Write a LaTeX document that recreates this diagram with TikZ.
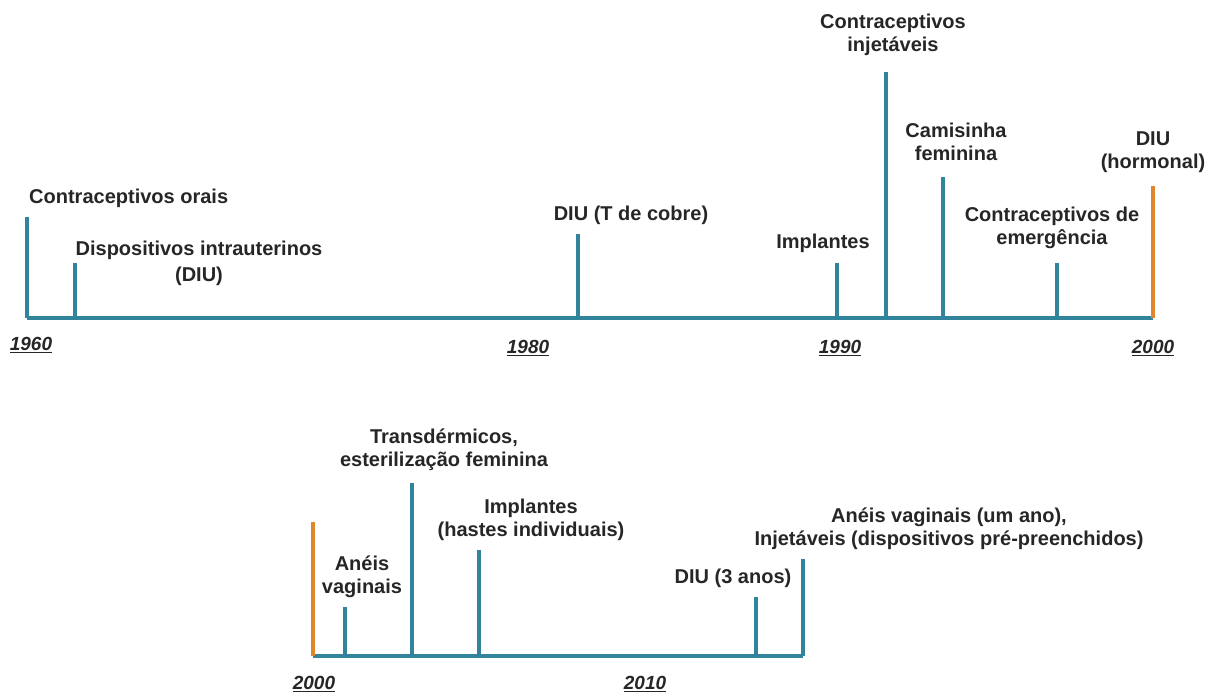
\documentclass[tikz,border=0pt]{standalone}
\usepackage{fontspec}
\setmainfont{Liberation Sans}
\definecolor{stemteal}{HTML}{31849B}
\definecolor{stemorange}{HTML}{E0862F}
\definecolor{ink}{HTML}{262626}
\tikzset{
  stem/.style={draw=stemteal, line width=3.2pt},
  stemhl/.style={draw=stemorange, line width=3.2pt},
  lbl/.style={font=\bfseries\fontsize{20}{23}\selectfont, text=ink, align=center, inner sep=0pt},
  yr/.style={font=\bfseries\itshape\fontsize{19}{23}\selectfont, text=ink, inner sep=0pt},
}
\newcommand{\yearlbl}[1]{\underline{#1}}
\begin{document}
\begin{tikzpicture}[x=1pt, y=-1pt]
\useasboundingbox (0,0) rectangle (1212,694);

% ---------- first period: 1960-2000 ----------
\coordinate (a0) at (27,318);
\coordinate (a1) at (1153,318);
\foreach \n/\x/\t in {p1/27/217, p2/75/263, p3/578/234, p4/837/263, p5/886/72, p6/943/177, p7/1057/263}{
  \coordinate (\n b) at (\x,318);
  \coordinate (\n t) at (\x,\t);
}
\coordinate (p8b) at (1153,318);
\coordinate (p8t) at (1153,186);

\draw[stem] (a0) -- (a1);
\foreach \n in {p1,p2,p3,p4,p5,p6,p7}{ \draw[stem] (\n b) -- (\n t); }
\draw[stemhl] (p8b) -- (p8t);

\node[lbl, anchor=west] (l1) at (29,198) {Contraceptivos orais};
\node[lbl] (l2) at (199,263) {Dispositivos intrauterinos\\[3pt](DIU)};
\node[lbl] (l3) at (631,215) {DIU (T de cobre)};
\node[lbl] (l4) at (823,243) {Implantes};
\node[lbl] (l5) at (893,34.5) {Contraceptivos\\injetáveis};
\node[lbl] (l6) at (956,141.5) {Camisinha\\feminina};
\node[lbl] (l7) at (1052,228) {Contraceptivos de\\emergência};
\node[lbl] (l8) at (1153,152) {DIU\\(hormonal)};

\node[yr] (y1960) at (31,345) {\yearlbl{1960}};
\node[yr] (y1980) at (528,348) {\yearlbl{1980}};
\node[yr] (y1990) at (840,348) {\yearlbl{1990}};
\node[yr] (y2000a) at (1153,348) {\yearlbl{2000}};

% ---------- second period: 2000-2010 ----------
\coordinate (b0) at (313,656);
\coordinate (b1) at (803,656);
\foreach \n/\x/\t in {q2/345/607, q3/412/483, q4/479/550, q5/756/597, q6/803/559}{
  \coordinate (\n b) at (\x,656);
  \coordinate (\n t) at (\x,\t);
}
\coordinate (q1b) at (313,656);
\coordinate (q1t) at (313,522);

\draw[stem] (b0) -- (b1);
\foreach \n in {q2,q3,q4,q5,q6}{ \draw[stem] (\n b) -- (\n t); }
\draw[stemhl] (q1b) -- (q1t);

\node[lbl] (m2) at (362,577) {Anéis\\vaginais};
\node[lbl] (m3) at (444,450) {Transdérmicos,\\esterilização feminina};
\node[lbl] (m4) at (531,520) {Implantes\\(hastes individuais)};
\node[lbl] (m5) at (733,578) {DIU (3 anos)};
\node[lbl] (m6) at (949,529) {Anéis vaginais (um ano),\\Injetáveis (dispositivos pré-preenchidos)};

\node[yr] (y2000b) at (314,684) {\yearlbl{2000}};
\node[yr] (y2010) at (645,684) {\yearlbl{2010}};
\end{tikzpicture}
\end{document}
